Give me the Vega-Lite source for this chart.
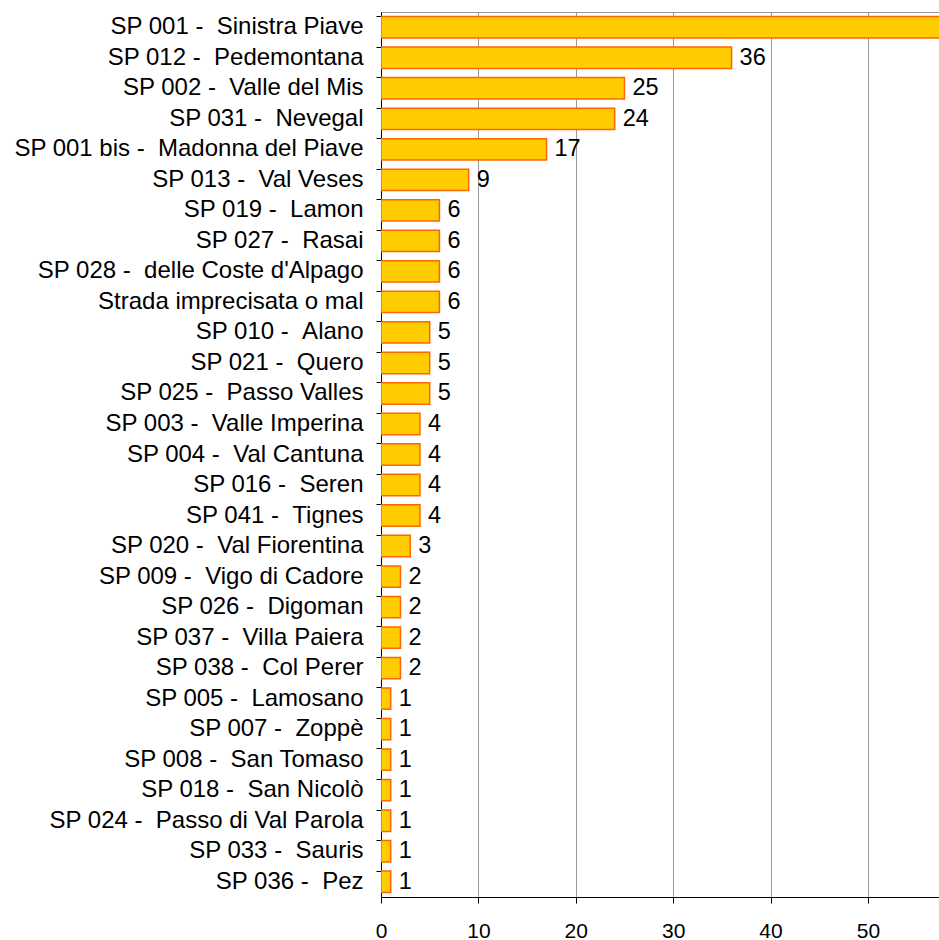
{
  "$schema": "https://vega.github.io/schema/vega-lite/v6.json",
  "autosize": "none",
  "width": 558,
  "height": 885,
  "padding": {"left": 381, "top": 12, "right": 0, "bottom": 43},
  "background": "white",
  "config": {
    "view": {"stroke": "#999999", "strokeWidth": 1},
    "font": "Liberation Sans"
  },
  "data": {
    "values": [
      {"road": "SP 001 - \u00a0Sinistra Piave", "n": 60},
      {"road": "SP 012 - \u00a0Pedemontana", "n": 36},
      {"road": "SP 002 - \u00a0Valle del Mis", "n": 25},
      {"road": "SP 031 - \u00a0Nevegal", "n": 24},
      {"road": "SP 001 bis - \u00a0Madonna del Piave", "n": 17},
      {"road": "SP 013 - \u00a0Val Veses", "n": 9},
      {"road": "SP 019 - \u00a0Lamon", "n": 6},
      {"road": "SP 027 - \u00a0Rasai", "n": 6},
      {"road": "SP 028 - \u00a0delle Coste d'Alpago", "n": 6},
      {"road": "Strada imprecisata o mal", "n": 6},
      {"road": "SP 010 - \u00a0Alano", "n": 5},
      {"road": "SP 021 - \u00a0Quero", "n": 5},
      {"road": "SP 025 - \u00a0Passo Valles", "n": 5},
      {"road": "SP 003 - \u00a0Valle Imperina", "n": 4},
      {"road": "SP 004 - \u00a0Val Cantuna", "n": 4},
      {"road": "SP 016 - \u00a0Seren", "n": 4},
      {"road": "SP 041 - \u00a0Tignes", "n": 4},
      {"road": "SP 020 - \u00a0Val Fiorentina", "n": 3},
      {"road": "SP 009 - \u00a0Vigo di Cadore", "n": 2},
      {"road": "SP 026 - \u00a0Digoman", "n": 2},
      {"road": "SP 037 - \u00a0Villa Paiera", "n": 2},
      {"road": "SP 038 - \u00a0Col Perer", "n": 2},
      {"road": "SP 005 - \u00a0Lamosano", "n": 1},
      {"road": "SP 007 - \u00a0Zoppè", "n": 1},
      {"road": "SP 008 - \u00a0San Tomaso", "n": 1},
      {"road": "SP 018 - \u00a0San Nicolò", "n": 1},
      {"road": "SP 024 - \u00a0Passo di Val Parola", "n": 1},
      {"road": "SP 033 - \u00a0Sauris", "n": 1},
      {"road": "SP 036 - \u00a0Pez", "n": 1}
    ]
  },
  "encoding": {
    "y": {
      "field": "road",
      "type": "nominal",
      "sort": null,
      "scale": {"paddingInner": 0.3, "paddingOuter": 0.15},
      "axis": {
        "title": null,
        "bandPosition": 0,
        "labelFont": "Liberation Sans",
        "labelFontSize": 24,
        "labelColor": "#000000",
        "labelPadding": 13,
        "tickSize": 5,
        "tickColor": "#000000",
        "domainColor": "#000000",
        "grid": false,
        "labelLimit": 400
      }
    },
    "x": {
      "field": "n",
      "type": "quantitative",
      "scale": {"domain": [0, 57.3], "nice": false},
      "axis": {
        "title": null,
        "values": [0, 10, 20, 30, 40, 50],
        "labelFont": "Liberation Sans",
        "labelFontSize": 21,
        "labelColor": "#000000",
        "labelPadding": 17,
        "labelFlush": false,
        "tickSize": 6,
        "tickColor": "#000000",
        "domainColor": "#000000",
        "grid": true,
        "gridColor": "#999999",
        "gridWidth": 1
      }
    }
  },
  "layer": [
    {
      "mark": {"type": "bar", "fill": "#FFCC00", "stroke": "#FF6600", "strokeWidth": 1.5, "clip": true}
    },
    {
      "transform": [{"filter": "datum.n < 57"}],
      "mark": {"type": "text", "align": "left", "baseline": "middle", "dx": 8, "fontSize": 23.5, "font": "Liberation Sans", "color": "#000000"},
      "encoding": {"text": {"field": "n", "type": "quantitative"}}
    }
  ]
}
